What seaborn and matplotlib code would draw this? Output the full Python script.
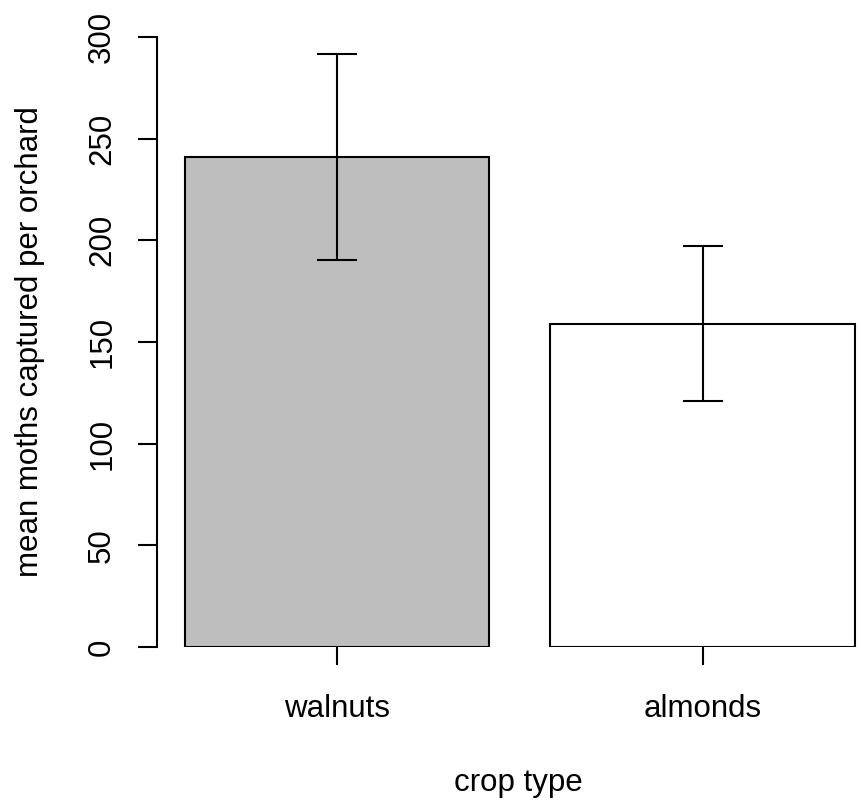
import matplotlib
matplotlib.use("Agg")
import matplotlib.pyplot as plt
import seaborn as sns
import pandas as pd

crops = ["walnuts", "almonds"]
means = [241, 159]
se = [50.5, 38]
colors = ["#BEBEBE", "#FFFFFF"]
yticks = [0, 50, 100, 150, 200, 250, 300]

sns.set_style("white")
plt.rcParams["font.family"] = ["Liberation Sans", "DejaVu Sans"]
plt.rcParams["text.color"] = "black"
plt.rcParams["axes.labelcolor"] = "black"
plt.rcParams["xtick.color"] = "black"
plt.rcParams["ytick.color"] = "black"

FS = 22.5
W, H = 862, 809
fig = plt.figure(figsize=(W / 100, H / 100), dpi=100)
ax_left, ax_right = 157, 862
ax_top, ax_bottom = 37, 647
ax = fig.add_axes([ax_left / W, (H - ax_bottom) / H,
                   (ax_right - ax_left) / W, (ax_bottom - ax_top) / H])

df = pd.DataFrame({"crop": crops, "mean": means})
sns.barplot(data=df, x="crop", y="mean", hue="crop", palette=colors,
            width=0.833, edgecolor="black", linewidth=1.5, legend=False,
            ax=ax, errorbar=None)
ax.errorbar(x=range(len(crops)), y=means, yerr=se, fmt="none",
            ecolor="black", elinewidth=1.5, capsize=14.4, capthick=1.5,
            clip_on=False)

ax.set_ylim(0, 300)
ax.set_xlim(-0.4925, 1 + (862 - 702.5) / 365.5)
ax.set_yticks(yticks)
ax.set_yticklabels([str(v) for v in yticks], rotation=90, va="center")

for s in ["top", "right", "bottom"]:
    ax.spines[s].set_visible(False)
ax.spines["left"].set_linewidth(1.5)
ax.spines["left"].set_color("black")
ax.spines["left"].set_bounds(0, 300)

ax.tick_params(axis="y", direction="out", length=13.7, width=1.5,
               color="black", labelcolor="black", labelsize=FS, pad=15, left=True)
ax.tick_params(axis="x", direction="out", length=13, width=1.5,
               color="black", labelcolor="black", labelsize=FS, pad=21, bottom=True)

ax.set_xlabel("crop type", fontsize=FS, color="black")
ax.set_ylabel("mean moths captured per orchard", fontsize=FS, color="black")
ax.xaxis.set_label_coords((518 - ax_left) / (ax_right - ax_left),
                          (ax_bottom - 768) / (ax_bottom - ax_top))
ax.yaxis.set_label_coords((45 - ax_left) / (ax_right - ax_left), 0.5)

fig.savefig("out.png", dpi=100, facecolor="white")
